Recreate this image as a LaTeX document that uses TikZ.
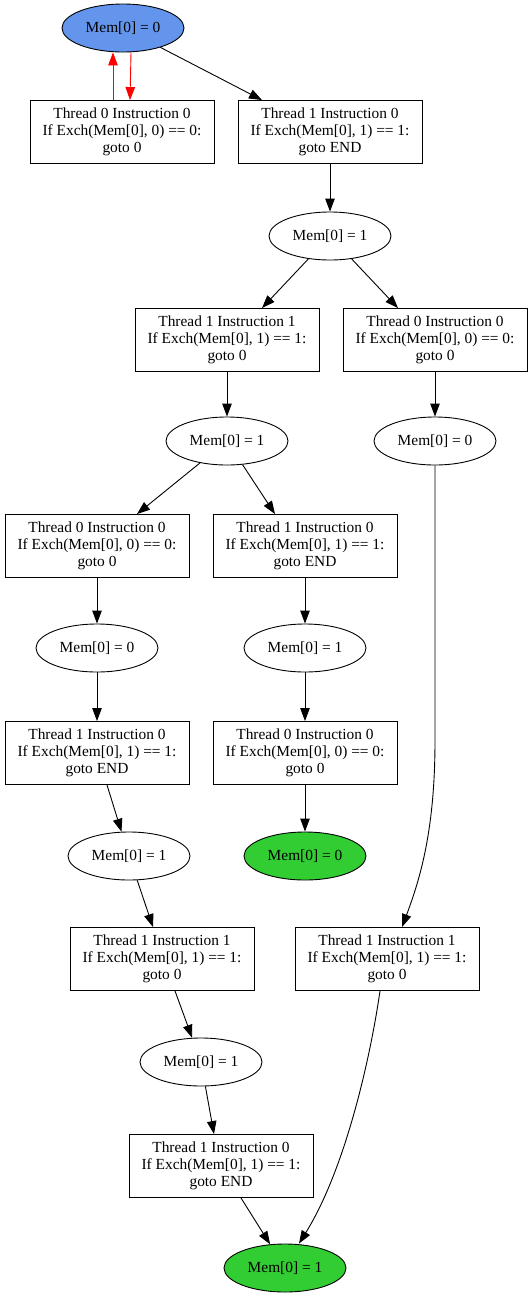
\documentclass[tikz,border=0pt]{standalone}
\usepackage{fontspec}
\setmainfont{Liberation Serif}
\usetikzlibrary{shapes.geometric,arrows.meta,calc}
\definecolor{startblue}{RGB}{100,149,237}
\definecolor{endgreen}{RGB}{50,205,50}
\begin{document}
\begin{tikzpicture}[x=1pt,y=-1pt,
  every node/.style={font=\fontsize{15.4}{17}\selectfont},
  state/.style={draw,ellipse,line width=0.9pt,minimum width=122pt,minimum height=48pt,inner sep=0pt},
  instr/.style={draw,rectangle,line width=0.9pt,minimum width=184pt,minimum height=63pt,inner sep=0pt,align=center},
  edge/.style={line width=0.9pt,-{Triangle[length=13pt,width=9.5pt]}},
  loopedge/.style={edge,red}]
\useasboundingbox (0,0) rectangle (532,1299);

% memory states
\node[state,fill=startblue] (A) at (123,28) {Mem[0] = 0};
\node[state] (C)  at (330,236) {Mem[0] = 1};
\node[state] (E1) at (227,441) {Mem[0] = 1};
\node[state] (E2) at (435,441) {Mem[0] = 0};
\node[state] (G1) at (97,648)  {Mem[0] = 0};
\node[state] (G2) at (305,648) {Mem[0] = 1};
\node[state] (I1) at (129,856) {Mem[0] = 1};
\node[state,fill=endgreen] (I2) at (305,856) {Mem[0] = 0};
\node[state] (K1) at (201,1062) {Mem[0] = 1};
\node[state,fill=endgreen] (M) at (285,1268) {Mem[0] = 1};

% instructions
\node[instr] (B1) at (122,132) {Thread 0 Instruction 0\\If Exch(Mem[0], 0) == 0:\\goto 0};
\node[instr] (B2) at (330,132) {Thread 1 Instruction 0\\If Exch(Mem[0], 1) == 1:\\goto END};
\node[instr] (D1) at (227,340) {Thread 1 Instruction 1\\If Exch(Mem[0], 1) == 1:\\goto 0};
\node[instr] (D2) at (435,340) {Thread 0 Instruction 0\\If Exch(Mem[0], 0) == 0:\\goto 0};
\node[instr] (F1) at (97,546)  {Thread 0 Instruction 0\\If Exch(Mem[0], 0) == 0:\\goto 0};
\node[instr] (F2) at (305,546) {Thread 1 Instruction 0\\If Exch(Mem[0], 1) == 1:\\goto END};
\node[instr] (H1) at (97,753)  {Thread 1 Instruction 0\\If Exch(Mem[0], 1) == 1:\\goto END};
\node[instr] (H2) at (305,753) {Thread 0 Instruction 0\\If Exch(Mem[0], 0) == 0:\\goto 0};
\node[instr] (J1) at (162,959) {Thread 1 Instruction 1\\If Exch(Mem[0], 1) == 1:\\goto 0};
\node[instr] (J2) at (387,959) {Thread 1 Instruction 1\\If Exch(Mem[0], 1) == 1:\\goto 0};
\node[instr] (L1) at (221,1166) {Thread 1 Instruction 0\\If Exch(Mem[0], 1) == 1:\\goto END};

% spin loop of thread 0
\draw[loopedge] ($(B1.north)+(-9,0)$) -- ($(A.south)+(-10,0)$);
\draw[loopedge] ($(A.south)+(8,0)$) -- ($(B1.north)+(8,0)$);

% transitions
\draw[edge] (A) -- ($(B2.north)+(-68,0)$);
\draw[edge] (B2) -- (C);
\draw[edge] (C) -- ($(D1.north)+(35,0)$);
\draw[edge] (C) -- ($(D2.north)+(-37,0)$);
\draw[edge] (D1) -- (E1);
\draw[edge] (D2) -- (E2);
\draw[edge] (E1) -- ($(F1.north)+(40,0)$);
\draw[edge] (E1) -- ($(F2.north)+(-30,0)$);
\draw[edge] (F1) -- (G1);
\draw[edge] (F2) -- (G2);
\draw[edge] (G1) -- (H1);
\draw[edge] (G2) -- (H2);
\draw[edge] ($(H1.south)+(10,0)$) -- (I1);
\draw[edge] (H2) -- (I2);
\draw[edge] (I1) -- ($(J1.north)+(-9,0)$);
\draw[edge] ($(J1.south)+(13,0)$) -- (K1);
\draw[edge] (K1) -- ($(L1.north)+(-7,0)$);
\draw[edge] ($(L1.south)+(20,0)$) -- (M);
\draw[edge] (E2.south) -- ($(E2.south)+(0,275)$)
  .. controls ($(E2.south)+(0,365)$) and ($(J2.north)+(33,-48)$) .. ($(J2.north)+(15,0)$);
\draw[edge] ($(J2.south)+(-7,0)$)
  .. controls ($(J2.south)+(-17,69)$) and ($(M.north)+(60,-74)$) .. ($(M.north)+(14,0)$);
\end{tikzpicture}
\end{document}
